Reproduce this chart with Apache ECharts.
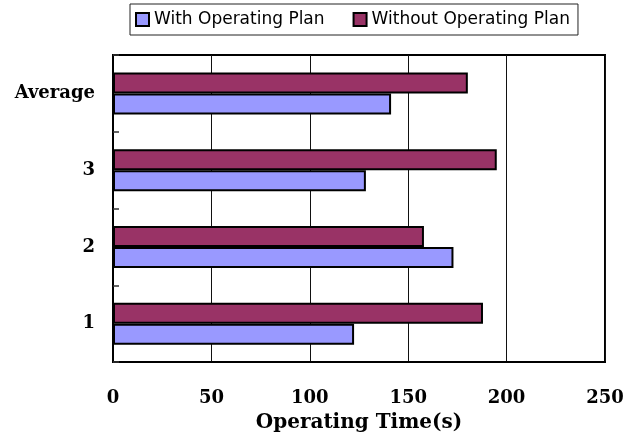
<!DOCTYPE html>
<html>
<head>
<meta charset="utf-8">
<script src="https://cdn.jsdelivr.net/npm/echarts@6/dist/echarts.min.js"></script>
<style>
  html, body { margin: 0; padding: 0; background: #fff; }
  #chart { width: 637px; height: 438px; }
</style>
</head>
<body>
<div id="chart"></div>
<script>
// Trial labels, bottom to top
const categories = ['1', '2', '3', 'Average'];
// Operating time in seconds
const withPlan = [122.5, 173, 128.5, 141.3];
const withoutPlan = [188, 158, 195, 180.3];
const seriesNames = ['With Operating Plan', 'Without Operating Plan'];
const xTicks = { min: 0, max: 250, step: 50 };
const xTitle = 'Operating Time(s)';

const serifBold = { fontFamily: 'DejaVu Serif', fontWeight: 'bold', color: '#000' };
const barBorder = { borderColor: '#000', borderWidth: 2 };

const chart = echarts.init(document.getElementById('chart'), null, { renderer: 'canvas' });
chart.setOption({
  backgroundColor: '#fff',
  animation: false,
  legend: {
    left: 130,
    top: 4,
    orient: 'horizontal',
    data: seriesNames,
    itemWidth: 13,
    itemHeight: 13,
    itemGap: 28,
    padding: [7, 8, 7, 5],
    borderColor: '#222',
    borderWidth: 1,
    icon: 'rect',
    textStyle: { fontFamily: 'DejaVu Sans', fontSize: 17, color: '#000' }
  },
  grid: {
    left: 113,
    top: 55,
    width: 492,
    height: 310,
    show: true,
    borderColor: '#000',
    borderWidth: 2,
    backgroundColor: '#fff'
  },
  xAxis: {
    type: 'value',
    min: xTicks.min,
    max: xTicks.max,
    interval: xTicks.step,
    name: xTitle,
    nameLocation: 'middle',
    nameGap: 51,
    nameTextStyle: Object.assign({ fontSize: 20 }, serifBold),
    axisLine: { show: true, lineStyle: { color: '#000', width: 2 } },
    axisTick: { show: false },
    axisLabel: Object.assign({ fontSize: 18, margin: 27 }, serifBold),
    splitLine: { show: true, lineStyle: { color: '#111', width: 1 } }
  },
  yAxis: {
    type: 'category',
    data: categories,
    boundaryGap: true,
    axisLine: { show: true, lineStyle: { color: '#000', width: 2 } },
    axisTick: { show: true, inside: true, length: 6, lineStyle: { color: '#333', width: 1.5 } },
    axisLabel: Object.assign({ fontSize: 18, margin: 18, padding: [3, 0, 0, 0] }, serifBold),
    splitLine: { show: false }
  },
  // "Without" listed first so it sits above "With" inside each category band
  series: [
    {
      name: seriesNames[1],
      type: 'bar',
      data: withoutPlan,
      barWidth: 21,
      barGap: '0%',
      itemStyle: Object.assign({ color: '#993366' }, barBorder)
    },
    {
      name: seriesNames[0],
      type: 'bar',
      data: withPlan,
      barWidth: 21,
      barGap: '0%',
      itemStyle: Object.assign({ color: '#9999FF' }, barBorder)
    }
  ]
});
</script>
</body>
</html>
